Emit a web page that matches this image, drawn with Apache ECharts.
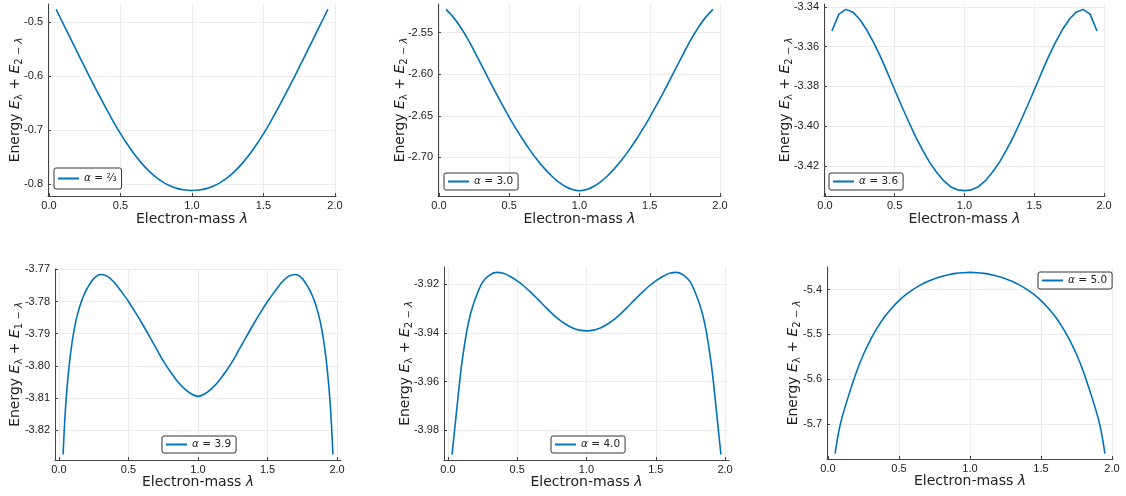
<!DOCTYPE html>
<html>
<head>
<meta charset="utf-8">
<script src="https://cdn.jsdelivr.net/npm/echarts@6/dist/echarts.min.js"></script>
<style>
html,body{margin:0;padding:0;background:#fff;}
#chart{width:1126px;height:496px;}
</style>
</head>
<body>
<div id="chart"></div>
<script>
// ---- data ----
const lamA = [0.05,0.10,0.15,0.20,0.25,0.30,0.35,0.40,0.45,0.50,0.55,0.60,0.65,0.70,0.75,0.80,0.85,0.90,0.95,1.00,1.05,1.10,1.15,1.20,1.25,1.30,1.35,1.40,1.45,1.50,1.55,1.60,1.65,1.70,1.75,1.80,1.85,1.90,1.95];
const lamB = [0.03,0.04,0.05,0.06,0.07,0.08,0.09,0.10,0.12,0.14,0.16,0.18,0.20,0.25,0.30,0.35,0.40,0.45,0.50,0.55,0.60,0.65,0.70,0.75,0.80,0.85,0.90,0.95,1.00,1.05,1.10,1.15,1.20,1.25,1.30,1.35,1.40,1.45,1.50,1.55,1.60,1.65,1.70,1.75,1.80,1.82,1.84,1.86,1.88,1.90,1.91,1.92,1.93,1.94,1.95,1.96,1.97];
const lamC = [0.05,0.075,0.10,0.15,0.20,0.25,0.30,0.35,0.40,0.45,0.50,0.55,0.60,0.65,0.70,0.75,0.80,0.85,0.90,0.95,1.00,1.05,1.10,1.15,1.20,1.25,1.30,1.35,1.40,1.45,1.50,1.55,1.60,1.65,1.70,1.75,1.80,1.85,1.90,1.925,1.95];

const energy1 = [-0.4770,-0.5038,-0.5306,-0.5573,-0.5839,-0.6101,-0.6357,-0.6605,-0.6843,-0.7068,-0.7273,-0.7458,-0.7621,-0.7761,-0.7877,-0.7969,-0.8037,-0.8084,-0.8110,-0.8117,
  -0.8110,-0.8084,-0.8037,-0.7969,-0.7877,-0.7761,-0.7621,-0.7458,-0.7273,-0.7068,-0.6843,-0.6605,-0.6357,-0.6101,-0.5839,-0.5573,-0.5306,-0.5038,-0.4770];
const energy2 = [-2.5220,-2.5310,-2.5425,-2.5563,-2.5718,-2.5881,-2.6046,-2.6209,-2.6367,-2.6518,-2.6661,-2.6795,-2.6919,-2.7032,-2.7133,-2.7221,-2.7294,-2.7350,-2.7388,-2.7402,
  -2.7388,-2.7350,-2.7294,-2.7221,-2.7133,-2.7032,-2.6919,-2.6795,-2.6661,-2.6518,-2.6367,-2.6209,-2.6046,-2.5881,-2.5718,-2.5563,-2.5425,-2.5310,-2.5220];
const energy3 = [-3.3522,-3.3437,-3.3413,-3.3427,-3.3464,-3.3517,-3.3581,-3.3654,-3.3735,-3.3818,-3.3900,-3.3978,-3.4054,-3.4120,-3.4182,-3.4232,-3.4274,-3.4304,-3.4320,-3.4324,
  -3.4320,-3.4304,-3.4274,-3.4232,-3.4182,-3.4120,-3.4054,-3.3978,-3.3900,-3.3818,-3.3735,-3.3654,-3.3581,-3.3517,-3.3464,-3.3427,-3.3413,-3.3437,-3.3522];
const energy4 = [-3.8276,-3.8185,-3.8115,-3.8060,-3.8015,-3.7975,-3.7942,-3.7912,-3.7865,-3.7830,-3.7802,-3.7780,-3.7762,-3.7729,-3.7716,-3.7722,-3.7742,-3.7770,-3.7800,-3.7834,-3.7870,-3.7908,-3.7946,-3.7985,-3.8018,-3.8047,-3.8070,-3.8087,-3.8095,
  -3.8087,-3.8070,-3.8047,-3.8018,-3.7985,-3.7946,-3.7908,-3.7870,-3.7834,-3.7800,-3.7770,-3.7742,-3.7722,-3.7716,-3.7729,-3.7762,-3.7780,-3.7802,-3.7830,-3.7865,-3.7912,-3.7942,-3.7975,-3.8015,-3.8060,-3.8115,-3.8185,-3.8276];
const energy5 = [-3.9900,-3.9845,-3.9790,-3.9735,-3.9680,-3.9625,-3.9574,-3.9527,-3.9449,-3.9382,-3.9330,-3.9290,-3.9257,-3.9192,-3.9163,-3.9152,-3.9156,-3.9169,-3.9187,-3.9209,-3.9235,-3.9263,-3.9292,-3.9320,-3.9345,-3.9365,-3.9380,-3.9389,-3.9392,
  -3.9389,-3.9380,-3.9365,-3.9345,-3.9320,-3.9292,-3.9263,-3.9235,-3.9209,-3.9187,-3.9169,-3.9156,-3.9152,-3.9163,-3.9192,-3.9257,-3.9290,-3.9330,-3.9382,-3.9449,-3.9527,-3.9574,-3.9625,-3.9680,-3.9735,-3.9790,-3.9845,-3.9900];
const energy6 = [-5.766,-5.718,-5.684,-5.6317,-5.5842,-5.5443,-5.5114,-5.4836,-5.4601,-5.4408,-5.4243,-5.4107,-5.3993,-5.3898,-5.3819,-5.3755,-5.3704,-5.3665,-5.3637,-5.3621,-5.3615,
  -5.3621,-5.3637,-5.3665,-5.3704,-5.3755,-5.3819,-5.3898,-5.3993,-5.4107,-5.4243,-5.4408,-5.4601,-5.4836,-5.5114,-5.5443,-5.5842,-5.6317,-5.684,-5.718,-5.766];

const alphaLabels = ['⅔','3.0','3.6','3.9','4.0','5.0'];
const xTicks = [0, 0.5, 1.0, 1.5, 2.0];
const yTicks1 = [-0.8,-0.7,-0.6,-0.5];
const yTicks2 = [-2.70,-2.65,-2.60,-2.55];
const yTicks3 = [-3.42,-3.40,-3.38,-3.36,-3.34];
const yTicks4 = [-3.82,-3.81,-3.80,-3.79,-3.78,-3.77];
const yTicks5 = [-3.98,-3.96,-3.94,-3.92];
const yTicks6 = [-5.7,-5.6,-5.5,-5.4];
const yDecimals = [1,2,2,2,2,1];
const subscripts = ['2 − ','2 − ','2 − ','1 − ','2 − ','2 − '];
const xRanges = [[-0.007,2.007],[-0.007,2.007],[-0.007,2.007],[-0.0282,2.0282],[-0.0282,2.0282],[-0.007,2.007]];
const yRanges = [[-0.822,-0.467],[-2.7465,-2.5155],[-3.4351,-3.3386],[-3.8293,-3.7699],[-3.9922,-3.9130],[-5.7781,-5.3494]];

// ---- layout / style ----
const grids = [
  {left:48, top:4, width:288, height:192},
  {left:438, top:4, width:283, height:192},
  {left:824, top:4, width:281, height:192},
  {left:55, top:269, width:286, height:191},
  {left:444, top:267, width:285, height:193},
  {left:827, top:267, width:286, height:192}
];
const yNameGaps = [24, 29, 30, 31, 30, 25];
const xNameGaps = [16, 16, 16, 15, 15, 15];
const legendPos = [
  {left:54, top:168, padding:[5,5,5,4]},
  {left:444, top:173, padding:[3,5,3,4]},
  {left:829, top:173, padding:[3,5,3,4]},
  {left:162, top:436, padding:[3,5,3,4]},
  {left:551, top:436, padding:[3,5,3,4]},
  {left:1038, top:272, padding:[3,5,3,4]}
];
const FONT = 'Liberation Sans, Arial, sans-serif';
const NFONT = 'DejaVu Sans, sans-serif';
const LINE = '#0072BD';
const TXT = '#222';

const lams = [lamA, lamA, lamA, lamB, lamB, lamC];
const energies = [energy1, energy2, energy3, energy4, energy5, energy6];
const yTicks = [yTicks1, yTicks2, yTicks3, yTicks4, yTicks5, yTicks6];

const xAxes = [], yAxes = [], series = [], legends = [];
for (let i = 0; i < 6; i++) {
  xAxes.push({
    type:'value', gridIndex:i, min:xRanges[i][0], max:xRanges[i][1],
    name:'{n|Electron-mass }{i|λ}', nameLocation:'middle', nameGap:xNameGaps[i], nameMoveOverlap:false,
    nameTextStyle:{fontFamily:NFONT, fontSize:14, color:TXT,
      rich:{n:{fontFamily:NFONT,fontSize:14,color:TXT}, i:{fontFamily:NFONT,fontSize:14,color:TXT,fontStyle:'italic'}}},
    axisLine:{show:true, onZero:false, lineStyle:{color:'#444', width:1}},
    axisTick:{show:true, inside:true, length:3, customValues:xTicks, lineStyle:{color:'#444'}},
    axisLabel:{customValues:xTicks, margin:4, fontFamily:FONT, fontSize:11, color:TXT, formatter:v=>v.toFixed(1)},
    splitLine:{show:true, lineStyle:{color:'#ececec', width:1}}
  });
  const sub = subscripts[i];
  yAxes.push({
    type:'value', gridIndex:i, min:yRanges[i][0], max:yRanges[i][1],
    name:'{n|Energy }{i|E}{s|λ}{n| + }{i|E}{s|' + sub + '}{si|λ}', nameLocation:'middle', nameGap:yNameGaps[i], nameMoveOverlap:false,
    nameTextStyle:{fontFamily:NFONT, fontSize:14, color:TXT,
      rich:{
        n:{fontFamily:NFONT,fontSize:14,color:TXT},
        i:{fontFamily:NFONT,fontSize:14,color:TXT,fontStyle:'italic'},
        s:{fontFamily:NFONT,fontSize:10,color:TXT,padding:[7,0,0,0]},
        si:{fontFamily:NFONT,fontSize:10,color:TXT,fontStyle:'italic',padding:[7,0,0,0]}
      }},
    axisLine:{show:true, onZero:false, lineStyle:{color:'#444', width:1}},
    axisTick:{show:true, inside:true, length:3, customValues:yTicks[i], lineStyle:{color:'#444'}},
    axisLabel:{customValues:yTicks[i], margin:5, fontFamily:FONT, fontSize:11, color:TXT,
      formatter:(v)=>v.toFixed(yDecimals[i])},
    splitLine:{show:true, lineStyle:{color:'#ececec', width:1}}
  });
  const name = 'alpha' + i;
  series.push({
    name:name, type:'line', xAxisIndex:i, yAxisIndex:i,
    data:lams[i].map((l, k) => [l, energies[i][k]]),
    showSymbol:false, symbol:'none', smooth: i === 2 ? false : 0.35,
    lineStyle:{color:LINE, width:1.6}, itemStyle:{color:LINE}, animation:false
  });
  const lbl = alphaLabels[i];
  legends.push(Object.assign({
    data:[name], orient:'horizontal', itemWidth:21, itemHeight:2, icon:'rect', itemGap:0,
    borderColor:'#333', borderWidth:1, borderRadius:2, backgroundColor:'#fff',
    selectedMode:false,
    textStyle:{fontFamily:NFONT, fontSize:10.5, color:TXT, rich:{i:{fontFamily:NFONT,fontSize:10.5,color:TXT,fontStyle:'italic'}}},
    formatter:()=>'{i|α} = ' + lbl
  }, legendPos[i]));
}

const chart = echarts.init(document.getElementById('chart'), null, {renderer:'canvas'});
chart.setOption({
  backgroundColor:'#fff',
  animation:false,
  grid:grids.map(g=>Object.assign({containLabel:false}, g)),
  xAxis:xAxes, yAxis:yAxes, series:series, legend:legends
});
</script>
</body>
</html>
